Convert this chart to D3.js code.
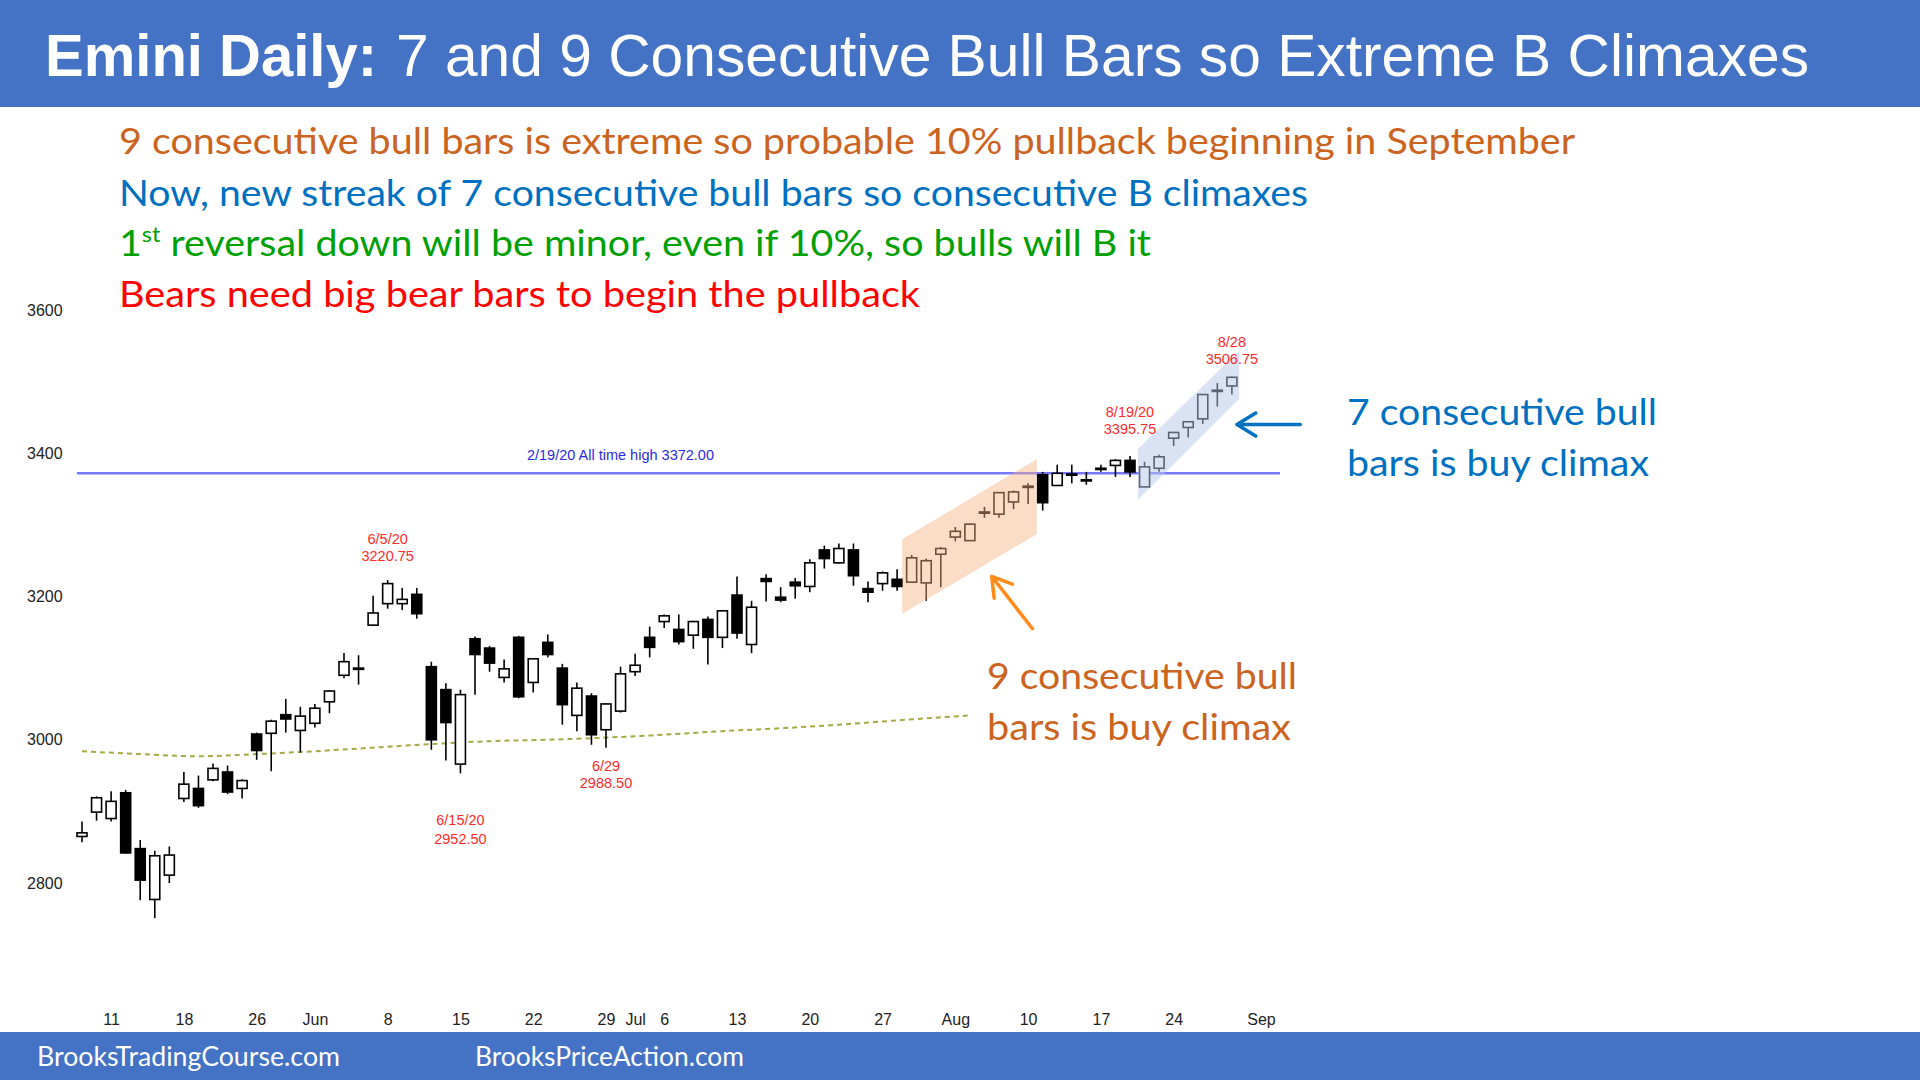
<!DOCTYPE html>
<html>
<head>
<meta charset="utf-8">
<script src="https://cdn.jsdelivr.net/npm/d3@7"></script>
<style>
  body { margin: 0; background: #fff; }
  svg { display: block; }
  .axis text { font-family: "Liberation Sans", Arial, sans-serif; font-size: 16px; fill: #222; }
</style>
</head>
<body>
<div id="chart"></div>
<script>
// daily bars, May 7 - Aug 28 2020
const dates = [
  "2020-05-07","2020-05-08","2020-05-11","2020-05-12","2020-05-13","2020-05-14","2020-05-15","2020-05-18","2020-05-19","2020-05-20",
  "2020-05-21","2020-05-22","2020-05-26","2020-05-27","2020-05-28","2020-05-29","2020-06-01","2020-06-02","2020-06-03","2020-06-04",
  "2020-06-05","2020-06-08","2020-06-09","2020-06-10","2020-06-11","2020-06-12","2020-06-15","2020-06-16","2020-06-17","2020-06-18",
  "2020-06-19","2020-06-22","2020-06-23","2020-06-24","2020-06-25","2020-06-26","2020-06-29","2020-06-30","2020-07-01","2020-07-02",
  "2020-07-06","2020-07-07","2020-07-08","2020-07-09","2020-07-10","2020-07-13","2020-07-14","2020-07-15","2020-07-16","2020-07-17",
  "2020-07-20","2020-07-21","2020-07-22","2020-07-23","2020-07-24","2020-07-27","2020-07-28","2020-07-29","2020-07-30","2020-07-31",
  "2020-08-03","2020-08-04","2020-08-05","2020-08-06","2020-08-07","2020-08-10","2020-08-11","2020-08-12","2020-08-13","2020-08-14",
  "2020-08-17","2020-08-18","2020-08-19","2020-08-20","2020-08-21","2020-08-24","2020-08-25","2020-08-26","2020-08-27","2020-08-28"
];
const opens = [
  2865,2899,2890,2926,2848,2777,2811,2918,2932,2944, 2955,2932,3008,3009,3035,3013,3023,3053,3090,3100,
  3160,3190,3190,3203,3102,3070,2966,3141,3128,3087, 3143,3080,3136,3100,3034,3061,3014,3040,3095,3143,
  3165,3154,3146,3168,3143,3202,3133,3225,3199,3220, 3214,3265,3247,3265,3211,3218,3224,3220,3219,3259,
  3283,3278,3317,3315,3332,3353,3370,3355,3370,3363, 3379,3383,3390,3353,3379,3421,3436,3448,3488,3494
];
const highs = [
  2886,2921,2928,2930,2860,2845,2851,2955,2950,2967, 2964,2945,3010,3028,3057,3046,3050,3069,3121,3118,
  3201,3223,3212,3212,3109,3079,3070,3144,3131,3112, 3145,3114,3147,3106,3080,3065,3051,3102,3120,3158,
  3175,3175,3166,3172,3181,3228,3194,3231,3213,3226, 3252,3271,3274,3274,3221,3235,3238,3258,3253,3269,
  3297,3302,3325,3346,3348,3358,3374,3384,3384,3374, 3384,3392,3396,3388,3398,3430,3445,3482,3498,3507
];
const lows = [
  2857,2887,2886,2841,2776,2751,2800,2913,2905,2942, 2924,2918,2972,2956,3010,2982,3017,3037,3086,3077,
  3159,3183,3181,3169,2986,2971,2953,3063,3095,3080, 3058,3066,3115,3021,3012,2993,2989,3038,3089,3115,
  3156,3133,3127,3105,3128,3141,3121,3193,3192,3197, 3206,3239,3246,3215,3192,3208,3208,3220,3194,3213,
  3277,3278,3310,3310,3322,3329,3320,3355,3358,3356, 3374,3367,3367,3353,3374,3410,3422,3441,3465,3482
];
const closes = [
  2870,2919,2914,2842,2804,2838,2839,2938,2908,2960, 2927,2943,2985,3026,3029,3033,3044,3068,3109,3100,
  3177,3218,3196,3176,3000,3024,3063,3119,3107,3099, 3060,3113,3119,3049,3072,3007,3050,3092,3104,3129,
  3173,3137,3165,3143,3180,3149,3185,3221,3195,3215, 3247,3253,3267,3229,3206,3233,3214,3254,3250,3267,
  3291,3301,3318,3345,3346,3354,3331,3372,3371,3363, 3379,3390,3374,3381,3395,3429,3444,3482,3487,3506
];

// slow moving average (dotted), sampled every 4 bars
const maIndex = [0, 4, 8, 12, 16, 20, 24, 28, 32, 36, 40, 44, 48, 52, 56, 61];
const maValues = [2984, 2980, 2977, 2980, 2984, 2989, 2994, 2998, 3000, 3003, 3007, 3012, 3016, 3021, 3027, 3034];

// extra sessions on the date axis
const axisDates = dates.concat(["2020-08-31", "2020-09-01"]);
const tickDates = ["2020-05-11","2020-05-18","2020-05-26","2020-06-01","2020-06-08","2020-06-15","2020-06-22","2020-06-29","2020-07-01",
  "2020-07-06","2020-07-13","2020-07-20","2020-07-27","2020-08-03","2020-08-10","2020-08-17","2020-08-24","2020-09-01"];
const tickLabels = ["11","18","26","Jun","8","15","22","29","Jul","6","13","20","27","Aug","10","17","24","Sep"];
const priceTicks = [2800, 3000, 3200, 3400, 3600];

const athPrice = 3372;
const athText = "2/19/20 All time high 3372.00";

// swing labels: bar date, label lines
const swingDates = ["2020-06-08", "2020-06-15", "2020-06-29", "2020-08-19", "2020-08-28"];
const swingTexts = [["6/5/20", "3220.75"], ["6/15/20", "2952.50"], ["6/29", "2988.50"], ["8/19/20", "3395.75"], ["8/28", "3506.75"]];

const title = ["Emini Daily:", "7 and 9 Consecutive Bull Bars so Extreme B Climaxes"];
const notes = [
  "9 consecutive bull bars is extreme so probable 10% pullback beginning in September",
  "Now, new streak of 7 consecutive bull bars so consecutive B climaxes",
  "reversal down will be minor, even if 10%, so bulls will B it",
  "Bears need big bear bars to begin the pullback"
];

const bars = dates.map((d, i) => ({ date: d, o: opens[i], h: highs[i], l: lows[i], c: closes[i] }));

const W = 1920, H = 1080;
const blue = "#4472C4", orange = "#CB6420", textBlue = "#0070C0";
const sans = "Lato, 'Open Sans', sans-serif";
const arial = "'Liberation Sans', Arial, sans-serif";

const svg = d3.select("#chart").append("svg")
  .attr("width", W).attr("height", H)
  .attr("viewBox", [0, 0, W, H]);

const x = d3.scalePoint().domain(axisDates).range([82, 1261]);
const xAt = i => x(axisDates[0]) + i * x.step();
const y = d3.scaleLinear().domain([2800, 3600]).range([883, 310]);

// header / footer bands
svg.append("rect").attr("width", W).attr("height", 107).attr("fill", blue);
svg.append("rect").attr("y", 1032).attr("width", W).attr("height", 48).attr("fill", blue);

svg.append("text").attr("x", 45).attr("y", 76)
  .attr("font-family", arial).attr("font-size", 59).attr("font-weight", "bold").attr("fill", "#fff")
  .attr("textLength", 332).attr("lengthAdjust", "spacingAndGlyphs")
  .text(title[0]);
svg.append("text").attr("x", 396).attr("y", 76)
  .attr("font-family", arial).attr("font-size", 59).attr("fill", "#fff")
  .attr("textLength", 1413).attr("lengthAdjust", "spacingAndGlyphs")
  .text(title[1]);

svg.append("text").attr("x", 37).attr("y", 1066)
  .attr("font-family", sans).attr("font-size", 27).attr("fill", "#fff")
  .attr("textLength", 303).attr("lengthAdjust", "spacingAndGlyphs")
  .text("BrooksTradingCourse.com");
svg.append("text").attr("x", 475).attr("y", 1066)
  .attr("font-family", sans).attr("font-size", 27).attr("fill", "#fff")
  .attr("textLength", 269).attr("lengthAdjust", "spacingAndGlyphs")
  .text("BrooksPriceAction.com");

// commentary lines
const noteStyle = [
  { y: 154, fill: orange, w: 1456 },
  { y: 206, fill: textBlue, w: 1189 },
  { y: 256, fill: "#00A000", w: 1032 },
  { y: 307, fill: "#FF0000", w: 801 }
];
notes.forEach((t, i) => {
  const s = noteStyle[i];
  const txt = svg.append("text").attr("x", 119).attr("y", s.y)
    .attr("font-family", sans).attr("font-size", 37).attr("fill", s.fill)
    .attr("textLength", s.w).attr("lengthAdjust", "spacingAndGlyphs");
  if (i == 2) {
    txt.append("tspan").text("1");
    txt.append("tspan").attr("font-size", 22).attr("dy", -14).text("st");
    txt.append("tspan").attr("dy", 14).text(" " + t);
  } else {
    txt.text(t);
  }
});

// axes
const yAxis = svg.append("g").attr("class", "axis")
  .attr("transform", "translate(22,0)")
  .call(d3.axisRight(y).tickValues(priceTicks).tickSize(0).tickPadding(5).tickFormat(d3.format("d")));
yAxis.select(".domain").remove();

const xAxis = svg.append("g").attr("class", "axis")
  .attr("transform", "translate(0,1011)")
  .call(d3.axisBottom(x).tickValues(tickDates).tickSize(0).tickPadding(3)
    .tickFormat(d => tickLabels[tickDates.indexOf(d)]));
xAxis.select(".domain").remove();

// moving average
const ma = maIndex.map((k, i) => [k, maValues[i]]);
svg.append("path")
  .datum(ma)
  .attr("fill", "none")
  .attr("stroke", "#A8A845")
  .attr("stroke-width", 2)
  .attr("stroke-dasharray", "5,4")
  .attr("d", d3.line().x(d => xAt(d[0])).y(d => y(d[1])).curve(d3.curveMonotoneX));

// all time high line
svg.append("line")
  .attr("x1", xAt(-0.35)).attr("x2", xAt(82.3))
  .attr("y1", y(athPrice)).attr("y2", y(athPrice))
  .attr("stroke", "#7878FF").attr("stroke-width", 2.5);
svg.append("text")
  .attr("x", xAt(30.57)).attr("y", y(athPrice) - 13)
  .attr("font-family", arial).attr("font-size", 14.5).attr("fill", "#2B2BE6")
  .text(athText);

// candles
const g = svg.append("g");
g.selectAll("line.wick")
  .data(bars)
  .join("line")
  .attr("class", "wick")
  .attr("x1", d => x(d.date)).attr("x2", d => x(d.date))
  .attr("y1", d => y(d.h)).attr("y2", d => y(d.l))
  .attr("stroke", "#000").attr("stroke-width", 1.6);

g.selectAll("rect.body")
  .data(bars)
  .join("rect")
  .attr("class", "body")
  .attr("x", d => x(d.date) - 5)
  .attr("width", 10)
  .attr("y", d => y(Math.max(d.o, d.c)))
  .attr("height", d => Math.max(1.2, Math.abs(y(d.o) - y(d.c))))
  .attr("fill", d => d.c >= d.o ? "#fff" : "#000")
  .attr("stroke", "#000").attr("stroke-width", 1.6);

// channels drawn over the bars
const orangeBand = [[56.35, 3280], [65.6, 3392], [65.6, 3287], [56.35, 3176]];
const blueBand = [[72.55, 3406], [79.5, 3543], [79.5, 3476], [72.55, 3335]];
const poly = d3.line().x(d => xAt(d[0])).y(d => y(d[1]));
svg.append("path").attr("d", poly(orangeBand) + "Z").attr("fill", "#F4B183").attr("opacity", 0.45);
svg.append("path").attr("d", poly(blueBand) + "Z").attr("fill", "#B4C7E7").attr("opacity", 0.5);

// swing high / low labels
const labelOffsets = [[-36, -19], [52, 71], [23, 40], [-39, -22], [-30, -13]];
swingDates.forEach((d, i) => {
  const b = bars[dates.indexOf(d)];
  const base = labelOffsets[i][0] < 0 ? y(b.h) : y(b.l);
  swingTexts[i].forEach((t, j) => {
    svg.append("text")
      .attr("x", x(d)).attr("y", base + labelOffsets[i][j])
      .attr("text-anchor", "middle")
      .attr("font-family", arial).attr("font-size", 14.5).attr("fill", "#FF2A2A")
      .text(t);
  });
});

// arrows
function arrow(x1, y1, x2, y2, color) {
  const a = Math.atan2(y2 - y1, x2 - x1), len = 22, sp = 0.55;
  const p = d3.path();
  p.moveTo(x1, y1); p.lineTo(x2, y2);
  p.moveTo(x2 - len * Math.cos(a - sp), y2 - len * Math.sin(a - sp));
  p.lineTo(x2, y2);
  p.lineTo(x2 - len * Math.cos(a + sp), y2 - len * Math.sin(a + sp));
  svg.append("path").attr("d", p.toString())
    .attr("fill", "none").attr("stroke", color).attr("stroke-width", 3.5)
    .attr("stroke-linecap", "round").attr("stroke-linejoin", "round");
}
arrow(xAt(83.7), y(3440), xAt(79.35), y(3440), textBlue);
arrow(xAt(65.3), y(3155), xAt(62.5), y(3228), "#FF8C1A");

// climax notes
const climax = [
  { x: 1347, y: 425, fill: textBlue, lines: ["7 consecutive bull", "bars is buy climax"], w: [310, 302] },
  { x: 987, y: 689, fill: orange, lines: ["9 consecutive bull", "bars is buy climax"], w: [310, 304] }
];
climax.forEach(c => {
  c.lines.forEach((t, j) => {
    svg.append("text")
      .attr("x", c.x).attr("y", c.y + j * 51)
      .attr("font-family", sans).attr("font-size", 37).attr("fill", c.fill)
      .attr("textLength", c.w[j]).attr("lengthAdjust", "spacingAndGlyphs")
      .text(t);
  });
});
</script>
</body>
</html>
